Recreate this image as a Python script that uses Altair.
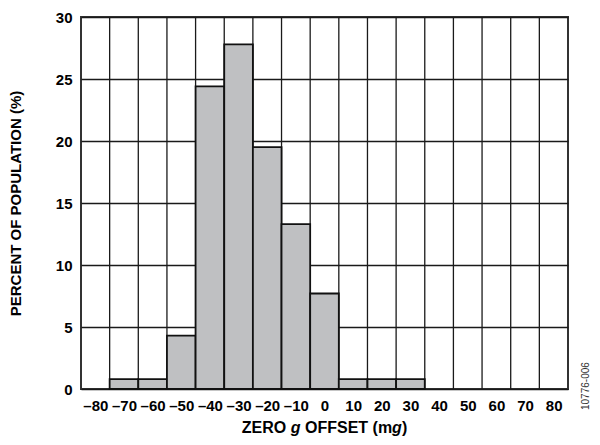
import altair as alt
import pandas as pd

# ---- data ----
offsets = [-80, -70, -60, -50, -40, -30, -20, -10, 0, 10, 20, 30, 40, 50, 60, 70, 80]
percent = [0, 0.8, 0.8, 4.3, 24.4, 27.8, 19.5, 13.3, 7.7, 0.8, 0.8, 0.8, 0, 0, 0, 0, 0]
y_ticks = [0, 5, 10, 15, 20, 25, 30]
title_parts = ["ZERO", "g", "OFFSET (m", "g", ")"]
y_title = "PERCENT OF POPULATION (%)"
figure_id = "10776-006"

df = pd.DataFrame({"offset": offsets, "percent": percent})

W, H = 487, 372
FONT = "Liberation Sans"

xscale = alt.Scale(domain=[-85, 85], nice=False, zero=False)
yscale = alt.Scale(domain=[0, 30], nice=False)

x_axis = alt.Axis(
    values=offsets,
    title=None,
    grid=False,
    domain=False,
    ticks=False,
    labelPadding=9,
    labelFlush=False,
    labelOverlap=False,
    labelExpr="datum.value < 0 ? '\u2013' + abs(datum.value) : '' + datum.value",
)

base = alt.Chart(df)

grid_v = (
    base.transform_calculate(edge="datum.offset + 5")
    .transform_filter("datum.edge < 85")
    .mark_rule(color="#1a1a1a", strokeWidth=1.3)
    .encode(x=alt.X("edge:Q", scale=xscale, axis=x_axis))
)

bars = (
    base.transform_filter("datum.percent > 0")
    .transform_calculate(lo="datum.offset - 5", hi="datum.offset + 5", zero0="0")
    .mark_rect(fill="#BFC0C2", stroke="#111111", strokeWidth=1.8)
    .encode(
        x=alt.X("lo:Q", scale=xscale, axis=x_axis),
        x2="hi:Q",
        y=alt.Y(
            "percent:Q",
            scale=yscale,
            axis=alt.Axis(
                values=y_ticks,
                title=y_title,
                grid=True,
                gridColor="#1a1a1a",
                gridWidth=1.3,
                gridOpacity=1,
                domain=False,
                ticks=False,
                labelPadding=9,
                titleX=-61,
                titleBaseline="alphabetic",
            ),
        ),
        y2="zero0:Q",
    )
)

# x-axis title in pieces so that "g" can be italic (Arial/Liberation Bold metrics, 16px)
pos = [160.8, 209.7, 224.0, 311.1, 320.9]
styles = ["normal", "italic", "normal", "italic", "normal"]
title_layers = []
for txt, px, st in zip(title_parts, pos, styles):
    title_layers.append(
        alt.Chart(alt.Data(values=[{"t": txt}]))
        .mark_text(
            font=FONT,
            fontSize=16,
            fontWeight="bold",
            fontStyle=st,
            align="left",
            baseline="alphabetic",
            color="black",
        )
        .encode(x=alt.value(px), y=alt.value(416), text="t:N")
    )

watermark = (
    alt.Chart(alt.Data(values=[{"t": figure_id}]))
    .mark_text(
        font=FONT,
        fontSize=10,
        angle=270,
        align="left",
        baseline="middle",
        color="#333333",
    )
    .encode(x=alt.value(505), y=alt.value(393), text="t:N")
)

chart = (
    alt.layer(grid_v, bars, *title_layers, watermark)
    .properties(
        width=W,
        height=H,
        padding={"left": 73, "top": 9, "right": 24, "bottom": 47},
        autosize=alt.AutoSizeParams(type="none"),
    )
    .configure_view(stroke="#333333", strokeWidth=2)
    .configure_axis(
        labelFont=FONT,
        labelFontSize=15,
        labelFontWeight="bold",
        labelColor="black",
        titleFont=FONT,
        titleFontSize=15,
        titleFontWeight="bold",
        titleColor="black",
    )
)

chart.save("out.html", embed_options={"renderer": "svg", "actions": False})
